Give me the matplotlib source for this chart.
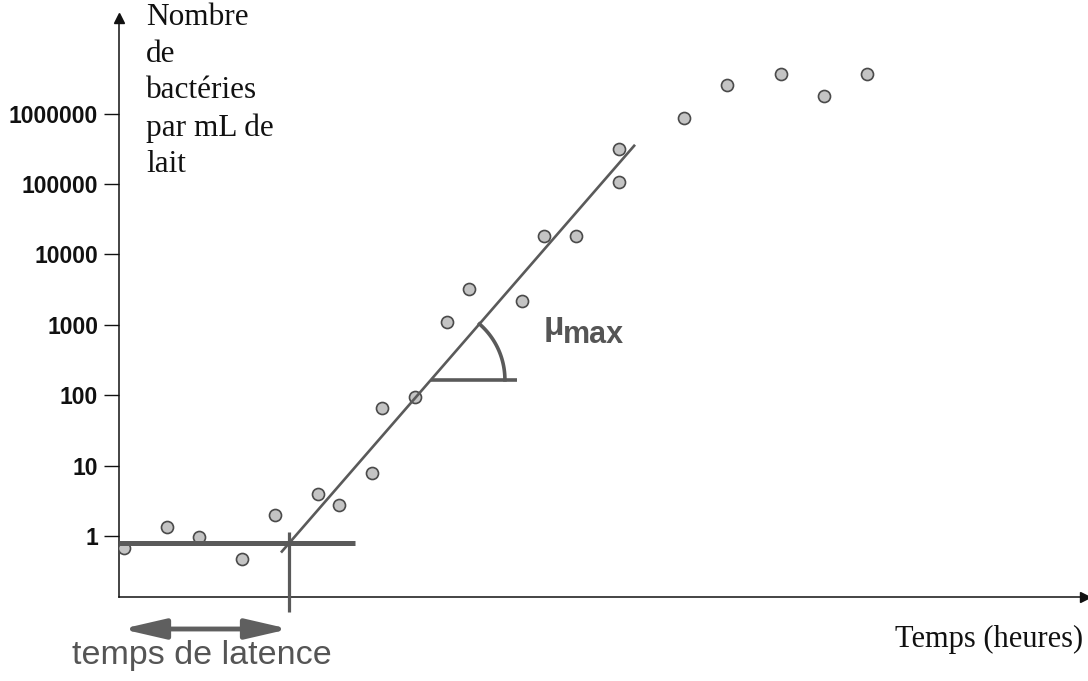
import numpy as np
import matplotlib
matplotlib.use("Agg")
import matplotlib.pyplot as plt
from matplotlib.patches import FancyArrowPatch

# ---- data (time in arbitrary units, bacteria per mL) ----
temps = [0, 4, 7, 11, 14, 18, 20, 23, 24, 27, 30, 32, 37, 39, 42, 46, 46, 52, 56, 61, 65, 69]
bacteries = [0.68, 1.36, 0.97, 0.47, 1.97, 3.9, 2.76, 7.9, 65, 95, 1100, 3200, 2200,
             18500, 18500, 107000, 310000, 870000, 2.57e6, 3.6e6, 1.78e6, 3.6e6]
ytick_values = [1, 10, 100, 1000, 10000, 100000, 1000000]
ytick_labels = ["1", "10", "100", "1000", "10000", "100000", "1000000"]

# growth model parameters (lag phase + exponential phase)
N_lag = 0.8            # plateau of lag phase
lag_time = 15.36       # end of lag phase
mu_slope = 0.1762      # log10 units per time unit
exp_range = (14.58, 47.45)
lag_range = (-0.46, 21.45)
angle_t = (28.5, 36.46)

W, H = 1088, 681
fig = plt.figure(figsize=(W / 100, H / 100), dpi=100)
ax = fig.add_axes([119 / W, (H - 597) / H, (1085 - 119) / W, (597 - 18) / H])
ax.set_yscale("log")
ax.set_xlim(-0.46, 89.23)
ax.set_ylim(10 ** -0.866, 10 ** 7.358)

grey = "#5a5a5a"

ax.scatter(temps, bacteries, s=75, facecolor="#c4c4c4", edgecolor="#4a4a4a",
           linewidth=1.2, zorder=3)

def model(t):
    return N_lag * 10 ** (mu_slope * (np.asarray(t) - lag_time))

te = np.array(exp_range)
ax.plot(te, model(te), color=grey, lw=1.9, zorder=4, solid_capstyle="butt")
ax.plot(lag_range, [N_lag, N_lag], color=grey, lw=3.6, zorder=4,
        solid_capstyle="butt", clip_on=False)
ax.plot([lag_time, lag_time], [N_lag * 10 ** 0.15, 10 ** -1.08], color=grey, lw=2.3,
        zorder=4, solid_capstyle="butt", clip_on=False)

# angle marker for mu_max
tc = angle_t[0]
yc = float(model(tc))
ax.plot([tc, angle_t[1]], [yc, yc], color=grey, lw=2.6, zorder=4, solid_capstyle="butt")
fig.canvas.draw()
cx, cy = ax.transData.transform((tc, yc))
p1 = ax.transData.transform((te[1], float(model(te[1]))))
ang = np.arctan2(p1[1] - cy, p1[0] - cx)
theta = np.linspace(0, ang, 60)
r = 74
arc_pts = np.column_stack([cx + r * np.cos(theta), cy + r * np.sin(theta)])
arc_data = ax.transData.inverted().transform(arc_pts)
ax.plot(arc_data[:, 0], arc_data[:, 1], color=grey, lw=2.6, zorder=4)

# axes styling
for s in ["top", "right"]:
    ax.spines[s].set_visible(False)
for s in ["left", "bottom"]:
    ax.spines[s].set_linewidth(1.1)
    ax.spines[s].set_color("#111111")
ax.set_xticks([])
ax.yaxis.set_minor_locator(matplotlib.ticker.NullLocator())
ax.set_yticks(ytick_values)
ax.set_yticklabels(ytick_labels, fontfamily="Liberation Sans", fontweight="bold",
                   fontsize=16.5, color="#111111")
ax.tick_params(axis="y", length=11, width=1.0, pad=4, color="#111111")
ax.plot(0, 1, marker="^", color="#111111", markersize=7, transform=ax.transAxes,
        clip_on=False)
ax.plot(1, 0, marker=">", color="#111111", markersize=7, transform=ax.transAxes,
        clip_on=False)

# texts
fig.text(146 / W, 1 - 3 / H, "Nombre\nde\nbactéries\npar mL de\nlait",
         fontfamily="Liberation Serif", fontsize=22.5, va="top", ha="left",
         linespacing=1.35, color="#111111")
fig.text(1083 / W, (H - 647) / H, "Temps (heures)", fontfamily="Liberation Serif",
         fontsize=22, va="baseline", ha="right", color="#111111")
fig.text(72 / W, (H - 664) / H, "temps de latence", fontfamily="Liberation Sans",
         fontsize=24.5, va="baseline", ha="left", color="#555555")
fig.text(544 / W, (H - 335) / H, "μ", fontfamily="Liberation Sans", fontweight="bold",
         fontsize=24, va="baseline", ha="left", color="#555555")
fig.text(563 / W, (H - 343) / H, "max", fontfamily="Liberation Sans", fontweight="bold",
         fontsize=22, va="baseline", ha="left", color="#555555")

# latency double arrow
arr = FancyArrowPatch((119 / W, (H - 629) / H), (292 / W, (H - 629) / H),
                      transform=fig.transFigure,
                      arrowstyle="<|-|>,head_length=2.6,head_width=0.6",
                      mutation_scale=10, lw=3.5, color="#5f5f5f")
fig.patches.append(arr)

fig.savefig("out.png", dpi=100)
